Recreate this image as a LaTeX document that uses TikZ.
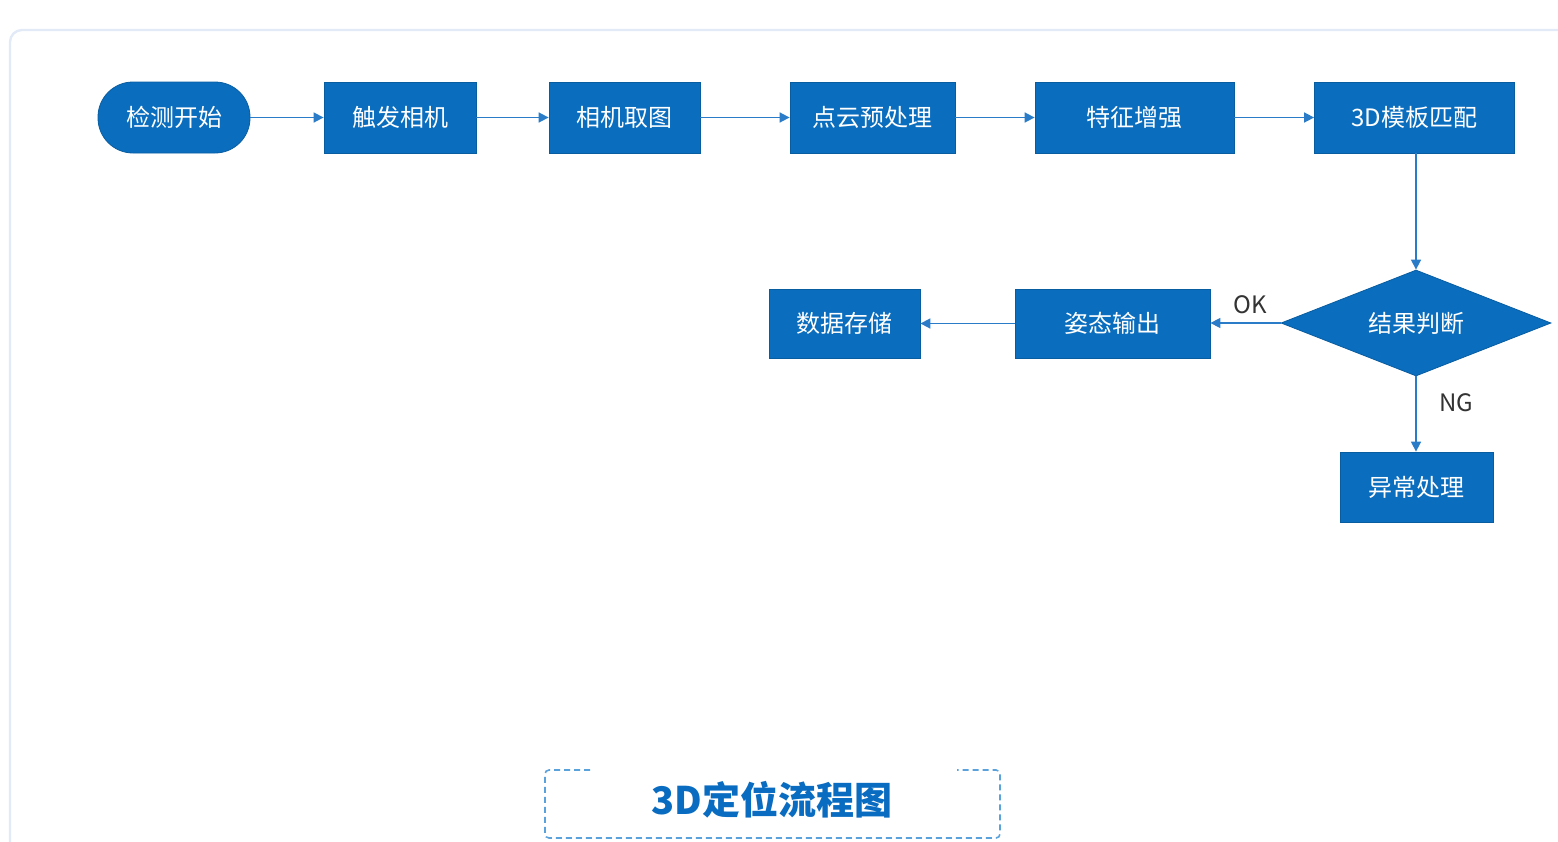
\documentclass[tikz,border=0pt]{standalone}
\usepackage{fontspec}
\setmainfont{Noto Sans CJK SC}
\usetikzlibrary{shapes.geometric,arrows.meta}
\definecolor{nodeblue}{HTML}{0A6DBE}
\definecolor{edgeblue}{HTML}{2A7CC8}
\definecolor{framec}{HTML}{E2EAF8}
\definecolor{dashc}{HTML}{5AA2DC}
\definecolor{titlec}{HTML}{0A6CC0}
\tikzset{
  proc/.style={rectangle, fill=nodeblue, draw=nodeblue!85!black, line width=0.4pt,
    text=white, font=\fontsize{12}{14}\selectfont, inner sep=0pt},
  term/.style={proc, rounded corners=17.5pt},
  dec/.style={diamond, fill=nodeblue, draw=nodeblue!85!black, line width=0.4pt,
    text=white, font=\fontsize{12}{14}\selectfont, inner sep=0pt, aspect=2.55},
  conn/.style={draw=edgeblue, line width=0.8pt, -{Triangle[length=5pt,width=5pt]}},
  lbl/.style={font=\fontsize{12}{14}\selectfont, text=black!80}
}
\begin{document}
\begin{tikzpicture}[x=0.5pt,y=-0.5pt]
\useasboundingbox (0,0) rectangle (1558,841);
\begin{scope}
\clip (0,0) rectangle (1558,841);
\draw[framec, line width=1.2pt, rounded corners=6pt] (10,30) rectangle (1600,900);
\end{scope}
% nodes
\node[term, minimum width=76pt, minimum height=35.5pt] (start) at (174,117.5) {检测开始};
\node[proc, minimum width=76pt, minimum height=35.5pt] (cam) at (400,117.5) {触发相机};
\node[proc, minimum width=75.5pt, minimum height=35.5pt] (grab) at (624.5,117.5) {相机取图};
\node[proc, minimum width=82.5pt, minimum height=35.5pt] (pre) at (872.5,117.5) {点云预处理};
\node[proc, minimum width=99.5pt, minimum height=35.5pt] (feat) at (1134.5,117.5) {特征增强};
\node[proc, minimum width=100pt, minimum height=35.5pt] (match) at (1414.5,117.5) {3D模板匹配};
\coordinate (dc) at (1416,323);
\node[dec, minimum width=135pt, minimum height=53pt] (judge) at (dc) {结果判断};
\node[proc, minimum width=97.5pt, minimum height=34.5pt] (pose) at (1112.5,323.5) {姿态输出};
\node[proc, minimum width=75.5pt, minimum height=34.5pt] (save) at (844.5,323.5) {数据存储};
\node[proc, minimum width=76.5pt, minimum height=35pt] (err) at (1416.5,487) {异常处理};
% connectors
\draw[conn] (start.east) -- (cam.west);
\draw[conn] (cam.east) -- (grab.west);
\draw[conn] (grab.east) -- (pre.west);
\draw[conn] (pre.east) -- (feat.west);
\draw[conn] (feat.east) -- (match.west);
\draw[conn] (match.south -| judge.north) -- (judge.north);
\draw[conn] (judge.west) -- (pose.east |- judge.west);
\draw[conn] (pose.west) -- (save.east);
\draw[conn] (judge.south) -- (err.north -| judge.south);
\node[lbl] (ok) at (1250,305) {OK};
\node[lbl] (ng) at (1456,403) {NG};
% title box
\draw[dashc, line width=0.8pt, dash pattern=on 3pt off 2pt, rounded corners=2pt]
  (590,770) -- (545,770) -- (545,838) -- (1000,838) -- (1000,770) -- (957,770);
\node[font=\fontsize{19}{22}\selectfont\bfseries, text=titlec] (title) at (772,800) {3D定位流程图};
\end{tikzpicture}
\end{document}
